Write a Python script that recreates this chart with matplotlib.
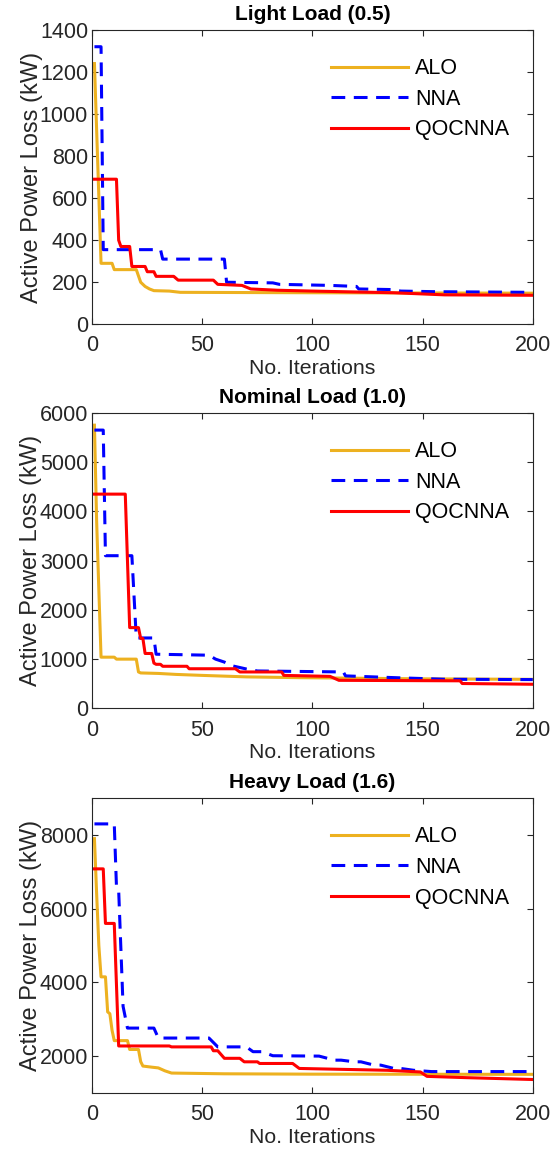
import matplotlib
matplotlib.use('Agg')
import matplotlib.pyplot as plt

# iteration / loss vertices
light_alo_it = [1, 4, 9, 10, 20, 21, 22, 24, 26, 28, 35, 40, 100, 200]
light_alo = [1240, 290, 290, 260, 260, 230, 200, 180, 168, 160, 158, 152, 150, 148]
light_nna_it = [1, 4, 5, 31, 32, 60, 61, 82, 85, 108, 120, 121, 137, 140, 156, 200]
light_nna = [1320, 1320, 355, 355, 310, 310, 200, 197, 190, 185, 180, 168, 165, 158, 155, 152]
light_q_it = [1, 11, 12, 13, 17, 18, 24, 25, 28, 29, 37, 39, 55, 57, 68, 72, 84, 100, 137, 160, 200]
light_q = [690, 690, 400, 370, 370, 275, 275, 250, 250, 228, 228, 210, 210, 190, 185, 168, 162, 158, 150, 140, 138]

nom_alo_it = [1, 2, 3, 4, 10, 11, 20, 21, 22, 30, 38, 50, 70, 94, 150, 200]
nom_alo = [5750, 3800, 2400, 1040, 1040, 1000, 1000, 740, 720, 710, 690, 670, 640, 624, 600, 590]
nom_nna_it = [1, 5, 6, 18, 20, 28, 29, 53, 56, 60, 64, 70, 75, 114, 115, 140, 160, 200]
nom_nna = [5650, 5650, 3100, 3100, 1430, 1430, 1100, 1080, 1000, 940, 860, 800, 760, 740, 660, 620, 592, 585]
nom_q_it = [1, 15, 17, 21, 22, 23, 24, 27, 28, 29, 31, 32, 43, 44, 65, 67, 86, 87, 108, 112, 167, 168, 200]
nom_q = [4350, 4350, 1640, 1640, 1420, 1420, 1115, 1115, 920, 895, 895, 855, 855, 805, 805, 740, 740, 670, 650, 570, 560, 505, 490]

heavy_alo_it = [1, 2, 3, 4, 6, 7, 8, 9, 10, 16, 17, 21, 22, 23, 27, 30, 33, 36, 60, 100, 200]
heavy_alo = [7900, 6400, 5000, 4150, 4150, 3200, 3150, 2700, 2420, 2420, 2180, 2180, 1850, 1730, 1700, 1680, 1600, 1540, 1520, 1510, 1505]
heavy_nna_it = [1, 10, 11, 12, 14, 16, 28, 30, 53, 57, 70, 73, 77, 82, 103, 110, 113, 119, 122, 128, 131, 137, 140, 146, 154, 200]
heavy_nna = [8300, 8300, 6600, 6500, 3350, 2760, 2760, 2490, 2490, 2250, 2250, 2120, 2120, 2010, 2000, 1890, 1890, 1845, 1845, 1755, 1755, 1665, 1665, 1615, 1580, 1580]
heavy_q_it = [1, 5, 6, 10, 12, 35, 36, 54, 55, 57, 60, 67, 69, 75, 76, 91, 94, 134, 149, 152, 170, 200]
heavy_q = [7080, 7080, 5600, 5600, 2275, 2275, 2250, 2250, 2145, 2145, 1940, 1940, 1845, 1845, 1800, 1800, 1665, 1615, 1570, 1450, 1415, 1365]

titles = ['Light Load (0.5)', 'Nominal Load (1.0)', 'Heavy Load (1.6)']
labels = ['ALO', 'NNA', 'QOCNNA']

panels = [
    (light_alo_it, light_alo, light_nna_it, light_nna, light_q_it, light_q),
    (nom_alo_it, nom_alo, nom_nna_it, nom_nna, nom_q_it, nom_q),
    (heavy_alo_it, heavy_alo, heavy_nna_it, heavy_nna, heavy_q_it, heavy_q),
]
ylims = [(0, 1400), (0, 6000), (1000, 9000)]
yticks = [range(0, 1401, 200), range(0, 6001, 1000), range(2000, 8001, 2000)]
boxes = [(0.165, 0.718, 0.788, 0.256), (0.165, 0.384, 0.788, 0.257), (0.165, 0.0496, 0.788, 0.2564)]

plt.rcParams['font.family'] = ['Liberation Sans', 'DejaVu Sans']
axcol = '#262626'

fig = plt.figure(figsize=(5.59, 11.5), dpi=100)
for i, p in enumerate(panels):
    ax = fig.add_axes(boxes[i])
    ax.plot(p[0], p[1], color='#EDB120', lw=2.2, label=labels[0])
    ax.plot(p[2], p[3], color='#0000FF', lw=2.2, ls=(0, (4.5, 2.8)), label=labels[1])
    ax.plot(p[4], p[5], color='#FF0000', lw=2.2, label=labels[2])
    ax.set_xlim(0, 200)
    ax.set_ylim(*ylims[i])
    ax.set_xticks([0, 50, 100, 150, 200])
    ax.set_yticks(list(yticks[i]))
    ax.tick_params(direction='in', top=True, right=True, labelsize=15.5,
                   colors=axcol, length=4, width=0.8)
    ax.tick_params(axis='x', pad=8)
    ax.tick_params(axis='y', pad=3)
    for s in ax.spines.values():
        s.set_color(axcol)
        s.set_linewidth(0.8)
    ax.set_title(titles[i], fontsize=15, fontweight='bold', pad=7)
    ax.set_xlabel('No. Iterations', fontsize=15.3, color=axcol, labelpad=2)
    ax.set_ylabel('Active Power Loss (kW)', fontsize=17, color=axcol, labelpad=-2)
    ax.legend(loc='upper right', frameon=False, fontsize=15.5, handlelength=3.6,
              handletextpad=0.3, labelspacing=0.45, bbox_to_anchor=(0.99, 0.97))

fig.savefig('out.png', dpi=100)
